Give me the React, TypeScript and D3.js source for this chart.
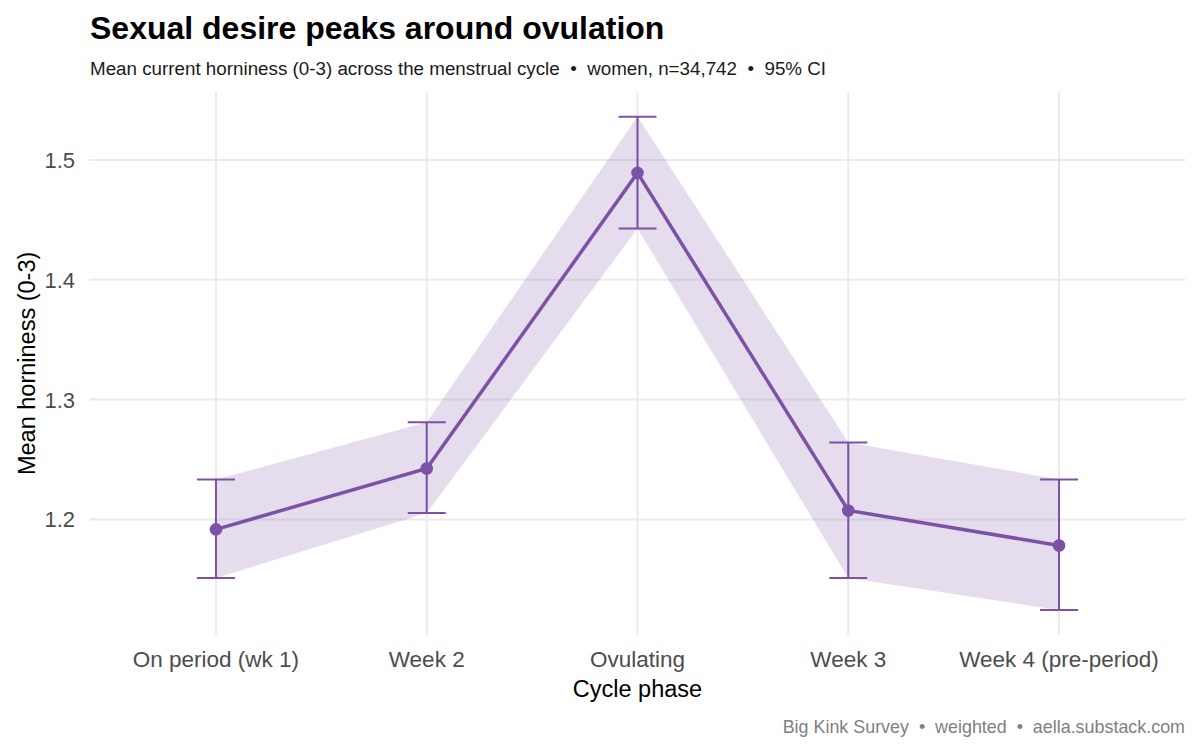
import React from "react";
import * as d3 from "d3";

const phases = ["On period (wk 1)", "Week 2", "Ovulating", "Week 3", "Week 4 (pre-period)"];
const means = [1.1917, 1.2425, 1.4892, 1.2075, 1.1783];
const lowerCI = [1.1511, 1.2053, 1.4428, 1.1511, 1.1244];
const upperCI = [1.2333, 1.2811, 1.5361, 1.2642, 1.2333];
const yTicks = [1.2, 1.3, 1.4, 1.5];

const W = 1200;
const H = 750;
const FONT = "'Liberation Sans', Arial, sans-serif";
const PURPLE = "#7B52A6";

export default function App() {
  const left = 89.5;
  const right = 1185.5;
  const top = 92;
  const bottom = 634.7;

  const x = d3.scalePoint<string>().domain(phases).range([left, right]).padding(0.6);

  const lo = d3.min(lowerCI)!;
  const hi = d3.max(upperCI)!;
  const pad = (hi - lo) * 0.05;
  const y = d3.scaleLinear().domain([lo - pad, hi + pad]).range([bottom, top]);

  const rows = phases.map((p, i) => ({ p, m: means[i], lo: lowerCI[i], hi: upperCI[i] }));

  const area = d3
    .area<(typeof rows)[number]>()
    .x((d) => x(d.p)!)
    .y0((d) => y(d.lo))
    .y1((d) => y(d.hi));
  const line = d3
    .line<(typeof rows)[number]>()
    .x((d) => x(d.p)!)
    .y((d) => y(d.m));

  const cap = 19;
  const pre = { whiteSpace: "pre" as const };

  return (
    <svg width={W} height={H} style={{ display: "block", position: "absolute", left: 0, top: 0 }} fontFamily={FONT}>
      <rect width={W} height={H} fill="#fff" />
      {/* grid */}
      {yTicks.map((t) => (
        <line key={t} x1={left} x2={right} y1={y(t)} y2={y(t)} stroke="#EBEBEB" strokeWidth={2} />
      ))}
      {phases.map((p) => (
        <line key={p} x1={x(p)} x2={x(p)} y1={top} y2={bottom} stroke="#EBEBEB" strokeWidth={2} />
      ))}
      {/* confidence band */}
      <path d={area(rows)!} fill={PURPLE} fillOpacity={0.2} />
      {/* error bars */}
      {rows.map((d) => {
        const cx = x(d.p)!;
        return (
          <g key={d.p} stroke={PURPLE} strokeWidth={2}>
            <line x1={cx} x2={cx} y1={y(d.lo)} y2={y(d.hi)} />
            <line x1={cx - cap} x2={cx + cap} y1={y(d.lo)} y2={y(d.lo)} />
            <line x1={cx - cap} x2={cx + cap} y1={y(d.hi)} y2={y(d.hi)} />
          </g>
        );
      })}
      <path d={line(rows)!} fill="none" stroke={PURPLE} strokeWidth={3.5} />
      {rows.map((d) => (
        <circle key={d.p} cx={x(d.p)} cy={y(d.m)} r={6.3} fill={PURPLE} />
      ))}
      {/* y tick labels */}
      {yTicks.map((t) => (
        <text key={t} x={75} y={y(t)} dy="0.36em" textAnchor="end" fontSize={22} fill="#4D4D4D">
          {t.toFixed(1)}
        </text>
      ))}
      {/* x tick labels */}
      {phases.map((p) => (
        <text key={p} x={x(p)} y={667} textAnchor="middle" fontSize={22.5} fill="#4D4D4D">
          {p}
        </text>
      ))}
      <text x={(left + right) / 2} y={697} textAnchor="middle" fontSize={23.5} fill="#000">
        Cycle phase
      </text>
      <text
        transform={`translate(35,${(top + bottom) / 2}) rotate(-90)`}
        textAnchor="middle"
        fontSize={23.5}
        fill="#000"
      >
        Mean horniness (0-3)
      </text>
      <text x={90} y={38.5} fontSize={32} fontWeight="bold" fill="#000">
        Sexual desire peaks around ovulation
      </text>
      <text x={90} y={74.5} fontSize={18.8} fill="#1a1a1a" style={pre}>
        {"Mean current horniness (0-3) across the menstrual cycle  \u2022  women, n=34,742  \u2022  95% CI"}
      </text>
      <text x={1185} y={733} textAnchor="end" fontSize={17.9} fill="#808080" style={pre}>
        {"Big Kink Survey  \u2022  weighted  \u2022  aella.substack.com"}
      </text>
    </svg>
  );
}
